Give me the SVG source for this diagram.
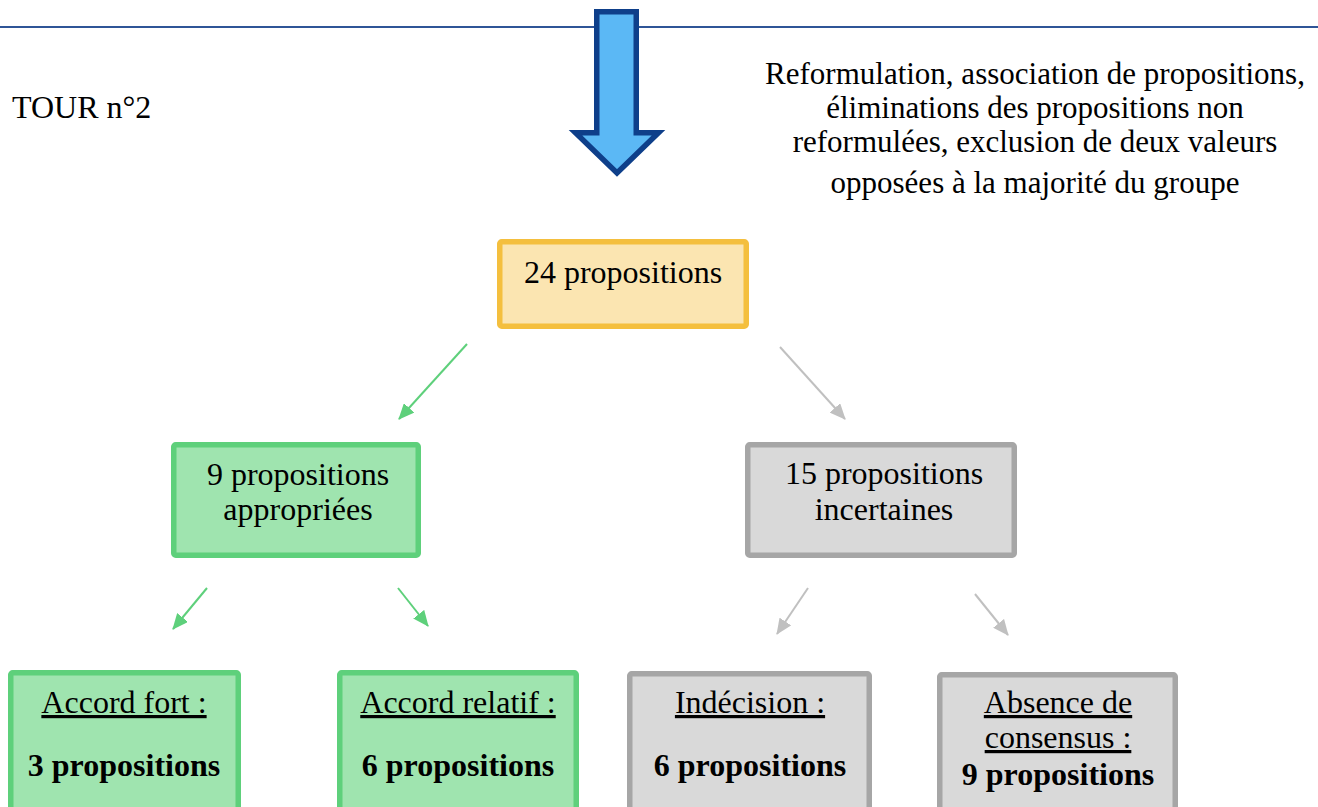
<svg xmlns="http://www.w3.org/2000/svg" width="1318" height="807" viewBox="0 0 1318 807">
<style>
text{font-family:"Liberation Serif","Times New Roman",serif;font-size:32px;fill:#000}
.c{text-anchor:middle}
.b{font-weight:bold}
.u{text-decoration:underline}
.n{font-size:31px}
.green rect{fill:#9FE4AF;stroke:#5ED07B;stroke-width:5.5}
.gray rect{fill:#D9D9D9;stroke:#A6A6A6;stroke-width:5.5}
.yellow rect{fill:#FBE5B1;stroke:#F4BF3E;stroke-width:5.5}
.cg{stroke:#5ED07B;stroke-width:2;fill:none}
.cs{stroke:#C0C0C0;stroke-width:2;fill:none}
</style>
<defs>
<marker id="ag" markerUnits="userSpaceOnUse" markerWidth="16" markerHeight="14" viewBox="0 0 16 14" refX="15" refY="7" orient="auto">
<path d="M0,0 L16,7 L0,14 Z" fill="#5ED07B"/>
</marker>
<marker id="as" markerUnits="userSpaceOnUse" markerWidth="16" markerHeight="14" viewBox="0 0 16 14" refX="15" refY="7" orient="auto">
<path d="M0,0 L16,7 L0,14 Z" fill="#C0C0C0"/>
</marker>
</defs>
<rect width="1318" height="807" fill="#fff"/>
<line x1="0" y1="27" x2="1318" y2="27" stroke="#2F5597" stroke-width="2"/>
<g id="big-arrow">
<path d="M596.75,11.75 H636.25 V132.75 H658.5 L617,173 L575.5,132.75 H596.75 Z" fill="#5BB8F5" stroke="#0E3F8A" stroke-width="5.5" stroke-linejoin="miter"/>
</g>
<g id="title"><text x="12" y="118">TOUR n°2</text></g>
<g id="note">
<text class="c n" x="1035" y="84">Reformulation, association de propositions,</text>
<text class="c n" x="1035" y="118">éliminations des propositions non</text>
<text class="c n" x="1035" y="152">reformulées, exclusion de deux valeurs</text>
<text class="c n" x="1035" y="193">opposées à la majorité du groupe</text>
</g>
<g id="n24" class="yellow">
<rect x="499.75" y="241.75" width="246.5" height="84.5" rx="2"/>
<text class="c" x="623" y="283">24 propositions</text>
</g>
<g id="n9" class="green">
<rect x="173.75" y="444.75" width="244.5" height="110.5" rx="2"/>
<text class="c" x="298" y="485">9 propositions</text>
<text class="c" x="298" y="520">appropriées</text>
</g>
<g id="n15" class="gray">
<rect x="747.75" y="444.75" width="266.5" height="110.5" rx="2"/>
<text class="c" x="884" y="484">15 propositions</text>
<text class="c" x="884" y="520">incertaines</text>
</g>
<g id="fort" class="green">
<rect x="10.75" y="672.75" width="227.5" height="170" rx="2"/>
<text class="c u" x="124" y="713">Accord fort :</text>
<text class="c b" x="124" y="776">3 propositions</text>
</g>
<g id="relatif" class="green">
<rect x="339.75" y="672.75" width="236.5" height="170" rx="2"/>
<text class="c u" x="458" y="713">Accord relatif :</text>
<text class="c b" x="458" y="776">6 propositions</text>
</g>
<g id="indecision" class="gray">
<rect x="629.75" y="673.75" width="239.5" height="170" rx="2"/>
<text class="c u" x="750" y="713">Indécision :</text>
<text class="c b" x="750" y="776">6 propositions</text>
</g>
<g id="absence" class="gray">
<rect x="939.75" y="674.75" width="235.5" height="170" rx="2"/>
<text class="c u" x="1058" y="713">Absence de</text>
<text class="c u" x="1058" y="748">consensus :</text>
<text class="c b" x="1058" y="785">9 propositions</text>
</g>
<g id="connectors">
<line class="cg" x1="467" y1="344" x2="399" y2="419" marker-end="url(#ag)"/>
<line class="cs" x1="780" y1="347" x2="845" y2="419" marker-end="url(#as)"/>
<line class="cg" x1="207" y1="588" x2="173" y2="629" marker-end="url(#ag)"/>
<line class="cg" x1="398" y1="588" x2="428" y2="626" marker-end="url(#ag)"/>
<line class="cs" x1="808" y1="588" x2="777" y2="634" marker-end="url(#as)"/>
<line class="cs" x1="975" y1="594" x2="1008" y2="635" marker-end="url(#as)"/>
</g>
</svg>
